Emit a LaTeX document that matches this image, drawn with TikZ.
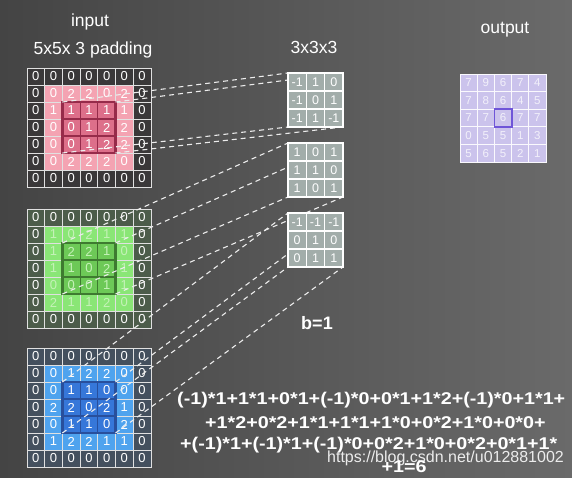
\documentclass[tikz,border=0pt]{standalone}
\usepackage{fontspec}
\setmainfont{Liberation Sans}
\newfontfamily\formulafont[FakeStretch=1.16]{Liberation Sans}
\usetikzlibrary{positioning,fit,backgrounds}
\pgfdeclarelayer{front}
\pgfsetlayers{background,main,front}
\definecolor{bgleft}{HTML}{444444}
\definecolor{bgright}{HTML}{6A6A6A}
\definecolor{padred}{HTML}{3A3839}
\definecolor{redlight}{HTML}{F4A3B2}
\definecolor{reddark}{HTML}{DD6F8A}
\definecolor{rededge}{HTML}{962B4A}
\definecolor{padgreen}{HTML}{4C5C4A}
\definecolor{greenlight}{HTML}{8AE676}
\definecolor{greendark}{HTML}{6DC957}
\definecolor{greenedge}{HTML}{3E7A30}
\definecolor{greendigit}{HTML}{C5F2B8}
\definecolor{padblue}{HTML}{44505E}
\definecolor{bluelight}{HTML}{4FA3EE}
\definecolor{bluedark}{HTML}{3677D9}
\definecolor{blueedge}{HTML}{284F9C}
\definecolor{kgray}{HTML}{A2ADAA}
\definecolor{ocol}{HTML}{CBC3EC}
\definecolor{opurple}{HTML}{6F55D8}

% padded input channel: name, top y, pad, light, dark, edge, inner digit colour, rows
\newcommand\inputgrid[8]{%
  \fill[#3] (27,#2) rectangle ++(123.9,119);
  \fill[#4] (44.7,#2+17) rectangle ++(88.5,85);
  \fill[#5] (62.4,#2+34) rectangle ++(53.1,51);
  \foreach \row [count=\i from 0] in {#8} {
    \foreach \v [count=\j from 0] in \row {
      \pgfmathtruncatemacro\pad{(\i==0)||(\i==6)||(\j==0)||(\j==6)}
      \ifnum\pad=1 \def\tc{white}\else\def\tc{#7}\fi
      \node[cell,text=\tc] (#1-\i-\j) at ({27+17.7*(\j+0.5)},{#2+17*(\i+0.5)}) {\v};
    }
  }
  \foreach \i in {2,3,4} {
    \foreach \j in {2,3,4} {
      \draw[#6,line width=1.2pt] (#1-\i-\j.north west) rectangle (#1-\i-\j.south east);
    }
  }
  \node[winbox,draw=#6,fit=(#1-2-2)(#1-4-4)] (win-#1) {};
}
% 3x3 kernel: name, top y, rows
\newcommand\kernelgrid[3]{%
  \begin{pgfonlayer}{front}
    \node[kframe] (#1) at (315.5,#2+27) {};
    \foreach \row [count=\i from 0] in {#3} {
      \foreach \v [count=\j from 0] in \row {
        \node[kcell] (#1-\i-\j) at ({288+18.33*(\j+0.5)},{#2+18*(\i+0.5)}) {\v};
      }
    }
    \draw[white,line width=2.4pt] (#1.north west) rectangle (#1.south east);
  \end{pgfonlayer}
}

\begin{document}
\begin{tikzpicture}[x=1pt,y=-1pt,
    every node/.style={text=white},
    cell/.style={draw=white!88!black,line width=0.8pt,minimum width=17.7pt,minimum height=17pt,
      inner sep=0pt,outer sep=0pt,font=\fontsize{13}{15}\selectfont},
    winbox/.style={line width=2.2pt,inner sep=0pt,outer sep=0pt},
    kframe/.style={fill=kgray,minimum width=55pt,minimum height=54pt,inner sep=0pt,outer sep=0pt},
    kcell/.style={draw=white,line width=1.2pt,minimum width=18.33pt,minimum height=18pt,
      inner sep=0pt,outer sep=0pt,font=\fontsize{12.5}{14}\selectfont},
    ocell/.style={draw=white!90!ocol,fill=ocol,line width=0.8pt,minimum width=17.2pt,minimum height=17.6pt,
      inner sep=0pt,outer sep=0pt,text=white!75!ocol,font=\fontsize{11.5}{13}\selectfont},
    dashline/.style={dash pattern=on 5pt off 4pt,draw=white!85!gray,line width=1.1pt},
    headtext/.style={font=\fontsize{17.5}{20}\selectfont},
    formula/.style={font=\formulafont\bfseries\fontsize{17}{20}\selectfont,inner sep=0pt},
    watermark/.style={text=white!85!gray,font=\fontsize{16}{18}\selectfont,inner sep=0pt}]
  \useasboundingbox (0,0) rectangle (572,478);
  \clip (0,0) rectangle (572,478);
  \shade[left color=bgleft,right color=bgright] (0,0) rectangle (572,478);
  % titles
  \node[headtext] (intitle) at (90,22) {input};
  \node[headtext] (padtitle) at (93,50) {5x5x 3 padding};
  \node[headtext] (ktitle) at (314,47) {3x3x3};
  \node[headtext] (outtitle) at (505,30) {output};
  % three padded input channels
  \inputgrid{red}{68}{padred}{redlight}{reddark}{rededge}{white}%
    {{0,0,0,0,0,0,0},{0,0,2,2,0,2,0},{0,1,1,1,1,1,0},{0,0,0,1,2,2,0},{0,0,0,1,2,2,0},{0,0,2,2,2,0,0},{0,0,0,0,0,0,0}}
  \inputgrid{green}{209}{padgreen}{greenlight}{greendark}{greenedge}{greendigit}%
    {{0,0,0,0,0,0,0},{0,1,0,2,1,1,0},{0,1,2,2,1,0,0},{0,1,1,0,2,1,0},{0,0,0,0,1,1,0},{0,2,1,1,2,0,0},{0,0,0,0,0,0,0}}
  \inputgrid{blue}{348}{padblue}{bluelight}{bluedark}{blueedge}{white}%
    {{0,0,0,0,0,0,0},{0,0,1,2,2,0,0},{0,0,1,1,0,0,0},{0,2,2,0,2,1,0},{0,0,1,1,0,2,0},{0,1,2,2,1,1,0},{0,0,0,0,0,0,0}}
  % kernels
  \kernelgrid{kone}{73}{{-1,1,0},{-1,0,1},{-1,1,-1}}
  \kernelgrid{ktwo}{143}{{1,0,1},{1,1,0},{1,0,1}}
  \kernelgrid{kthree}{213}{{-1,-1,-1},{0,1,0},{0,1,1}}
  % window corners -> kernel corners
  \foreach \g/\k in {red/kone,green/ktwo,blue/kthree} {
    \draw[dashline] (win-\g.north west) -- (\k.north west);
    \draw[dashline] (win-\g.north east) -- (\k.north east);
    \draw[dashline] (win-\g.south west) -- (\k.south west);
    \draw[dashline] (win-\g.south east) -- (\k.south east);
  }
  % output map
  \foreach \row [count=\i from 0] in {{7,9,6,7,4},{7,8,6,4,5},{7,7,6,7,7},{0,5,5,1,3},{5,6,5,2,1}} {
    \foreach \v [count=\j from 0] in \row {
      \node[ocell] (out-\i-\j) at ({460+17.2*(\j+0.5)},{74+17.6*(\i+0.5)}) {\v};
    }
  }
  \node[draw=opurple,line width=1.8pt,inner sep=0pt,fit=(out-2-2)] (out-focus) {};
  % bias and sum
  \node[font=\bfseries\fontsize{18}{20}\selectfont] (bias) at (317,323) {b=1};
  \node[formula,anchor=west] (line1) at (177,400) {(-1)*1+1*1+0*1+(-1)*0+0*1+1*2+(-1)*0+1*1+};
  \node[formula,anchor=west] (line2) at (205,423) {+1*2+0*2+1*1+1*1+1*0+0*2+1*0+0*0+};
  \node[formula,anchor=west] (line3) at (180,445) {+(-1)*1+(-1)*1+(-1)*0+0*2+1*0+0*2+0*1+1*};
  \node[watermark,anchor=west] (mark) at (327,458) {https://blog.csdn.net/u012881002};
  \node[formula] (result) at (404,467) {+1=6};
\end{tikzpicture}
\end{document}
